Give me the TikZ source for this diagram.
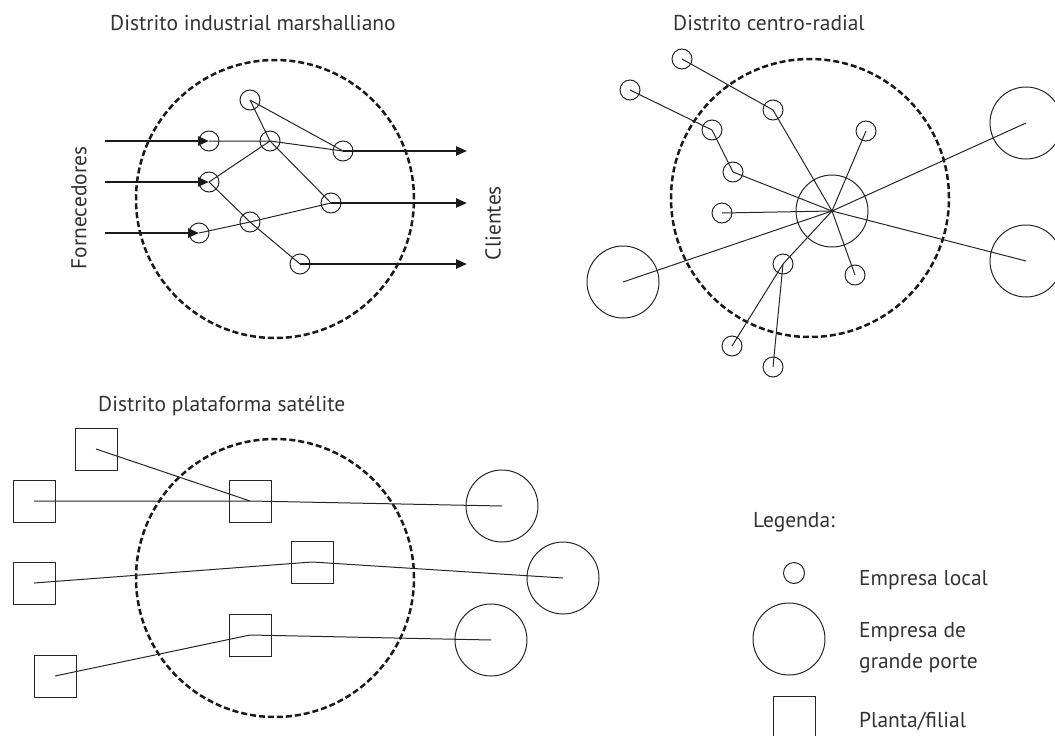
\documentclass[tikz,border=0pt]{standalone}
\usepackage{fontspec}
\setmainfont{PT Sans}
\usetikzlibrary{arrows.meta}
\begin{document}
\begin{tikzpicture}[x=1pt,y=-1pt,
  firm/.style={circle,draw=black!85,line width=1pt,inner sep=0pt,minimum size=20pt},
  bigfirm/.style={firm,minimum size=72pt},
  plant/.style={rectangle,draw=black!85,line width=1pt,inner sep=0pt,minimum size=42pt},
  district/.style={circle,draw=black!90,line width=2.5pt,dash pattern=on 6pt off 3pt,inner sep=0pt,minimum size=278pt},
  link/.style={draw=black!85,line width=1pt},
  flow/.style={draw=black!90,line width=2.3pt,-{Triangle[length=11pt,width=9pt]}},
  txt/.style={font=\fontsize{21.5}{26}\selectfont,text=black!80,inner sep=0pt}]
\useasboundingbox (0,0) rectangle (1055,736);

% Distrito industrial marshalliano
\node[txt,anchor=base west] (titleA) at (110,30) {Distrito industrial marshalliano};
\node[district] (distA) at (275,199) {};
\node[firm] (a1) at (250,100) {};
\node[firm] (a2) at (209,141) {};
\node[firm] (a3) at (270,141) {};
\node[firm] (a4) at (343,151) {};
\node[firm] (a5) at (209,182) {};
\node[firm] (a6) at (331,203) {};
\node[firm] (a7) at (250,222) {};
\node[firm] (a8) at (199,233) {};
\node[firm] (a9) at (300,264) {};
\draw[link] (a1.center) -- (a3.center) -- (a6.center);
\draw[link] (a1.center) -- (a4.center);
\draw[link] (a2.center) -- (a3.center) -- (a4.center);
\draw[link] (a5.center) -- (a3.center);
\draw[link] (a5.center) -- (a7.center) -- (a9.center);
\draw[link] (a8.center) -- (a7.center) -- (a6.center);
\foreach \n/\y in {2/141,5/182,8/233}{
  \coordinate (in\n) at (105,\y);
  \draw[flow] (in\n) -- (a\n.center);
}
\foreach \n/\y in {4/151,6/203,9/264}{
  \coordinate (out\n) at (467,\y);
  \draw[flow] (a\n.center) -- (out\n);
}
\node[txt,rotate=90] (supp) at (79,208) {Fornecedores};
\node[txt,rotate=90] (cli) at (493,223) {Clientes};

% Distrito centro-radial
\node[txt,anchor=base west] (titleB) at (673,30) {Distrito centro-radial};
\node[district] (distB) at (810,198) {};
\node[bigfirm] (hub) at (832,211) {};
\foreach \n/\x/\y in {1/682/59,2/630/90,3/773/110,4/712/130,5/866/131,6/733/172,
  7/722/213,8/783/264,9/855/275,10/732/346,11/773/367}
  \node[firm] (b\n) at (\x,\y) {};
\node[bigfirm] (big1) at (623,282) {};
\node[bigfirm] (big2) at (1026,123) {};
\node[bigfirm] (big3) at (1026,261) {};
\draw[link] (b1.center) -- (b3.center) -- (hub.center);
\draw[link] (b2.center) -- (b4.center) -- (b6.center) -- (hub.center);
\draw[link] (b11.center) -- (b8.center);
\draw[link] (b10.center) -- (b8.center) -- (hub.center);
\foreach \n in {b5,b7,b9,big1,big2,big3}
  \draw[link] (\n.center) -- (hub.center);

% Distrito plataforma satelite
\node[txt,anchor=base west] (titleC) at (98,411) {Distrito plataforma satélite};
\node[district] (distC) at (275,578) {};
\node[plant] (c1) at (96,449) {};
\node[plant] (c2) at (34,501) {};
\node[plant] (c3) at (250,501) {};
\node[plant] (c4) at (34,583) {};
\node[plant] (c5) at (312,562) {};
\node[plant] (c6) at (250,635) {};
\node[plant] (c7) at (55,676) {};
\node[bigfirm] (d1) at (502,506) {};
\node[bigfirm] (d2) at (563,578) {};
\node[bigfirm] (d3) at (491,640) {};
\draw[link] (c1.center) -- (c3.center);
\draw[link] (c2.center) -- (c3.center) -- (d1.center);
\draw[link] (c4.center) -- (c5.center) -- (d2.center);
\draw[link] (c7.center) -- (c6.center) -- (d3.center);

% Legenda
\node[txt,anchor=base west] (leg) at (753,527) {Legenda:};
\node[firm,minimum size=21pt] (legA) at (794,573) {};
\node[txt,anchor=base west] (legAt) at (859,585) {Empresa local};
\node[bigfirm] (legB) at (789,639) {};
\node[txt,anchor=base west] (legBt) at (859,637) {Empresa de};
\node[txt,anchor=base west] (legBu) at (859,668) {grande porte};
\node[plant] (legC) at (794,717) {};
\node[txt,anchor=base west] (legCt) at (859,727) {Planta/filial};
\end{tikzpicture}
\end{document}
